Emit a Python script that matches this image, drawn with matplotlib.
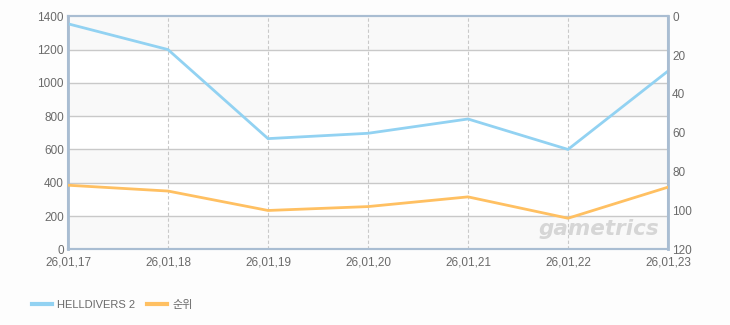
import matplotlib
matplotlib.use('Agg')
import matplotlib.pyplot as plt
from matplotlib.lines import Line2D

# chart data
dates = ['26,01,17', '26,01,18', '26,01,19', '26,01,20', '26,01,21', '26,01,22', '26,01,23']
players = [1355, 1200, 665, 697, 783, 600, 1071]
rank = [87, 90, 100, 98, 93, 104, 88]
left_ticks = [0, 200, 400, 600, 800, 1000, 1200, 1400]
right_ticks = [0, 20, 40, 60, 80, 100, 120]

BLUE = '#92d2f2'
ORANGE = '#ffc062'
SPINE = '#a9bdd2'
GRID = '#c9c9c9'
TXT = '#6a6a6a'

plt.rcParams['font.family'] = ['Liberation Sans', 'Noto Sans CJK KR']

fig = plt.figure(figsize=(7.3, 3.25), dpi=100)
fig.patch.set_facecolor('#fdfdfd')
ax = fig.add_axes([68 / 730, 1 - 249.3 / 325, 600 / 730, 233 / 325])
ax.set_facecolor('white')

x = list(range(len(dates)))
ax.set_xlim(0, len(dates) - 1)
ax.set_ylim(0, 1400)

# alternating bands, light ones start at the bottom
for lo in (0, 400, 800, 1200):
    ax.axhspan(lo, lo + 200, color='#f9f9f9', zorder=0, lw=0)

for t in left_ticks[1:-1]:
    ax.axhline(t, color=GRID, lw=1, zorder=1)
for xi in x[1:-1]:
    ax.axvline(xi, color=GRID, lw=0.8, ls=(0, (3, 2)), zorder=1)

ax.plot(x, players, color=BLUE, lw=2, zorder=3, solid_joinstyle='miter')

ax2 = ax.twinx()
ax2.set_ylim(120, 0)
ax2.plot(x, rank, color=ORANGE, lw=2, zorder=3, solid_joinstyle='miter')

ax.set_xticks(x)
ax.set_xticklabels(dates)
ax.set_yticks(left_ticks)
ax2.set_yticks(right_ticks)
ax.tick_params(axis='both', length=0, colors=TXT, labelsize=8.5, pad=3)
ax.tick_params(axis='x', pad=5)
ax2.tick_params(axis='y', length=0, colors=TXT, labelsize=8.5, pad=3)

for a in (ax, ax2):
    for s in a.spines.values():
        s.set_color(SPINE)
        s.set_linewidth(1.5)
ax.spines['left'].set_linewidth(2)
ax2.spines['right'].set_linewidth(2)

# watermark
ax.text(0.985, 0.085, 'gametrics', transform=ax.transAxes, ha='right', va='center',
        fontsize=15.5, fontweight='bold', style='italic', color='#d6d6d6',
        family='DejaVu Sans', zorder=2)

handles = [Line2D([], [], color=BLUE, lw=3), Line2D([], [], color=ORANGE, lw=3)]
fig.legend(handles, ['HELLDIVERS 2', '순위'], loc='lower left', bbox_to_anchor=(0.03, 0.015),
           ncol=2, frameon=False, fontsize=8, handlelength=1.8, handletextpad=0.5,
           columnspacing=1.0, labelcolor=TXT)

fig.savefig('out.png', dpi=100, facecolor=fig.get_facecolor())
